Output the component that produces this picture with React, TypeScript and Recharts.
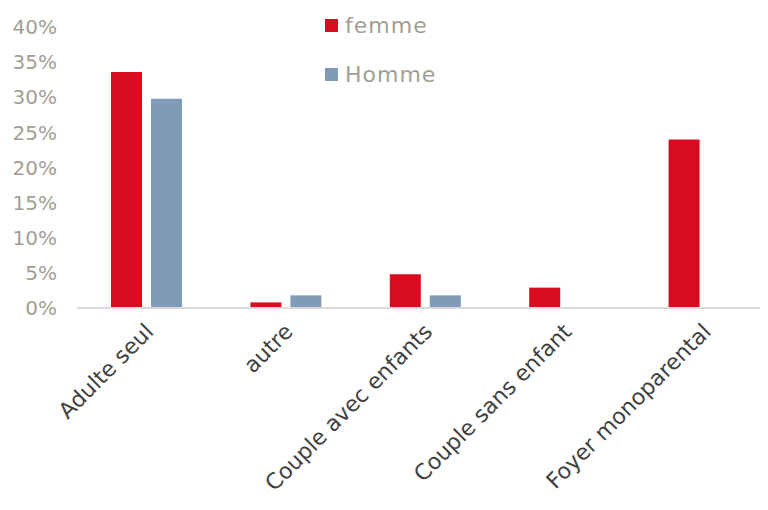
import React from "react"
import { BarChart, Bar, XAxis, YAxis, Legend } from "recharts"

const categories = ["Adulte seul", "autre", "Couple avec enfants", "Couple sans enfant", "Foyer monoparental"]
const femme = [33.6, 0.8, 4.8, 2.9, 24]
const homme = [29.8, 1.8, 1.8, 0, 0]
const yTicks = [0, 5, 10, 15, 20, 25, 30, 35, 40]

const FEMME_COLOR = "#d90b20"
const HOMME_COLOR = "#7f9bb7"
const LABEL_GREY = "#a39e94"

const data = categories.map((name, i) => ({ name, femme: femme[i], homme: homme[i] }))

const XTick = ({ x, y, payload }: any) => (
  <text
    x={x - 3}
    y={y + 6}
    transform={`rotate(-45 ${x - 3} ${y + 6})`}
    textAnchor="end"
    dy="0.71em"
    fill="#404040"
    fontSize={22}
    fontFamily="DejaVu Sans"
  >
    {payload.value}
  </text>
)

const YTick = ({ x, y, payload }: any) => (
  <text x={x} y={y} textAnchor="end" dy="0.36em" fill={LABEL_GREY} fontSize={20} fontFamily="DejaVu Sans">
    {`${payload.value}%`}
  </text>
)

const CustomLegend = () => (
  <div style={{ fontFamily: "DejaVu Sans", fontSize: 22, letterSpacing: 1, color: LABEL_GREY }}>
    {[
      { label: "femme", color: FEMME_COLOR },
      { label: "Homme", color: HOMME_COLOR },
    ].map((item, i) => (
      <div key={i} style={{ display: "flex", alignItems: "center", height: 25, marginBottom: i === 0 ? 24 : 0 }}>
        <div style={{ width: 13, height: 13, background: item.color, marginRight: 7 }} />
        <span>{item.label}</span>
      </div>
    ))}
  </div>
)

export default function App() {
  return (
    <div style={{ margin: -8, width: 768, height: 510, background: "#fff", overflow: "hidden" }}>
      <BarChart
        width={768}
        height={510}
        data={data}
        margin={{ top: 27, right: -6, left: 0, bottom: 0 }}
        barSize={31}
        barGap={9}
      >
        <XAxis
          dataKey="name"
          interval={0}
          height={202}
          axisLine={{ stroke: "#d9d9d9", strokeWidth: 2 }}
          tickLine={false}
          tick={<XTick />}
        />
        <YAxis
          width={77}
          domain={[0, 40]}
          ticks={yTicks}
          axisLine={false}
          tickLine={false}
          tickMargin={14}
          tick={<YTick />}
        />
        <Legend
          content={<CustomLegend />}
          height={0}
          wrapperStyle={{ position: "absolute", top: 13, left: 325, width: 200, height: 0, overflow: "visible" }}
        />
        <Bar dataKey="femme" fill={FEMME_COLOR} isAnimationActive={false} />
        <Bar dataKey="homme" fill={HOMME_COLOR} isAnimationActive={false} />
      </BarChart>
    </div>
  )
}
